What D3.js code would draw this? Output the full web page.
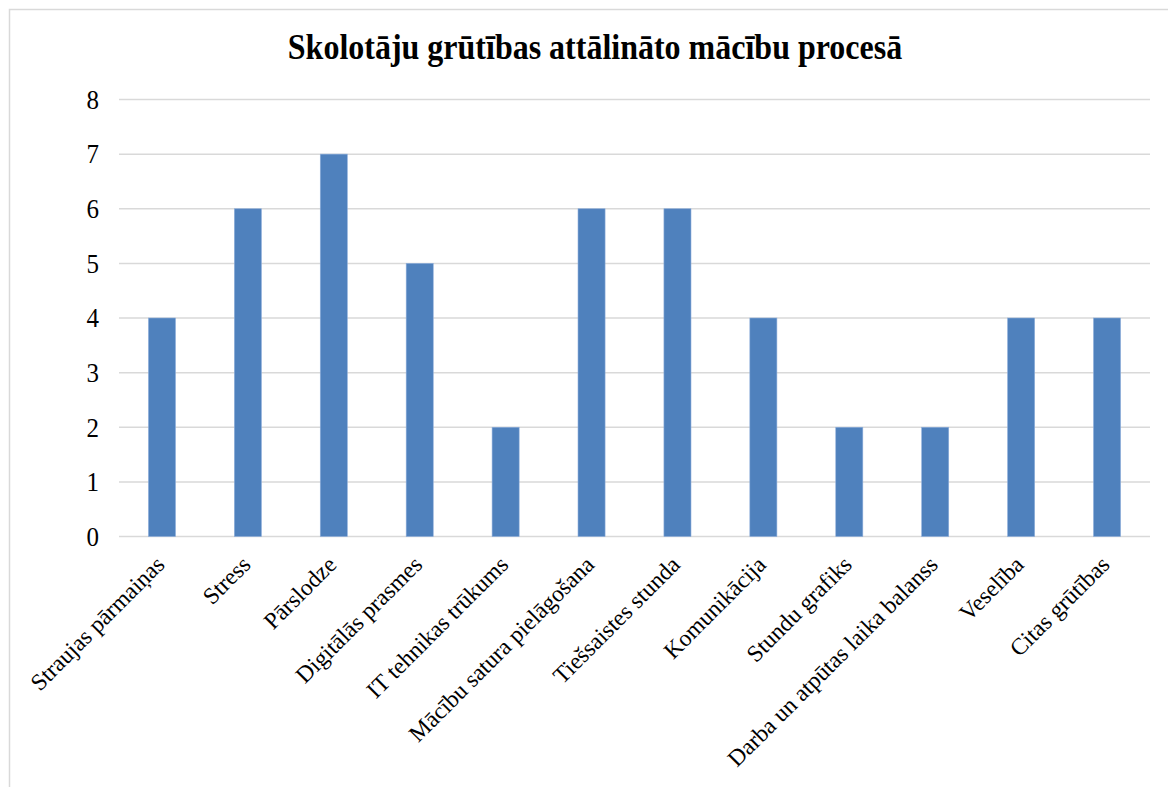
<!DOCTYPE html>
<html>
<head>
<meta charset="utf-8">
<script src="https://cdn.jsdelivr.net/npm/d3@7"></script>
<style>
    body { margin: 0; background: #fff; }
    svg { display: block; font-family: "Liberation Serif", "Times New Roman", serif; }
</style>
</head>
<body>
<svg id="chart"></svg>
<script>
const categories = ["Straujas pārmaiņas", "Stress", "Pārslodze", "Digitālās prasmes", "IT tehnikas trūkums",
    "Mācību satura pielāgošana", "Tiešsaistes stunda", "Komunikācija", "Stundu grafiks",
    "Darba un atpūtas laika balanss", "Veselība", "Citas grūtības"];
const values = [4, 6, 7, 5, 2, 6, 6, 4, 2, 2, 4, 4];
const yTicks = [0, 1, 2, 3, 4, 5, 6, 7, 8];
const title = "Skolotāju grūtības attālināto mācību procesā";

const width = 1168, height = 787;
const margin = {top: 99.5, right: 18, bottom: 250, left: 119};

const svg = d3.select("#chart").attr("width", width).attr("height", height);

// chart frame (only left and top edges are in view)
svg.append("path")
    .attr("d", "M9.5," + height + "V9.5H" + width)
    .attr("fill", "none")
    .attr("stroke", "#d9d9d9")
    .attr("stroke-width", 1.5);

svg.append("text")
    .attr("transform", "translate(595, 59) scale(1, 1.1)")
    .attr("text-anchor", "middle")
    .attr("font-size", 32)
    .attr("font-weight", "bold")
    .text(title);

const x = d3.scaleBand()
    .domain(categories)
    .range([margin.left, width - margin.right])
    .paddingInner(0.685)
    .paddingOuter(0.3425);

const y = d3.scaleLinear()
    .domain([0, 8])
    .range([536.5, margin.top]);

// gridlines
svg.append("g")
    .attr("stroke", "#d9d9d9")
    .attr("stroke-width", 1.5)
  .selectAll("line")
  .data(yTicks)
  .enter().append("line")
    .attr("x1", margin.left)
    .attr("x2", width - margin.right)
    .attr("y1", d => y(d))
    .attr("y2", d => y(d));

// y labels
svg.append("g")
    .attr("font-size", 25)
    .attr("text-anchor", "end")
  .selectAll("text")
  .data(yTicks)
  .enter().append("text")
    .attr("transform", d => "translate(99, " + y(d) + ") scale(1, 1.1)")
    .attr("dy", "0.34em")
    .text(d => d);

// bars
svg.append("g")
  .selectAll("rect")
  .data(values)
  .enter().append("rect")
    .attr("x", (d, i) => x(categories[i]))
    .attr("y", d => y(d))
    .attr("width", x.bandwidth())
    .attr("height", d => y(0) - y(d))
    .attr("fill", "#4f81bd")
    .attr("stroke", "#8eaedb")
    .attr("stroke-width", 0.6);

// category labels
svg.append("g")
    .attr("font-size", 23.5)
    .attr("text-anchor", "end")
  .selectAll("text")
  .data(categories)
  .enter().append("text")
    .attr("transform", d => "translate(" + (x(d) + x.bandwidth() / 2 + 4) + ", 566) rotate(-45)")
    .text(d => d);
</script>
</body>
</html>
